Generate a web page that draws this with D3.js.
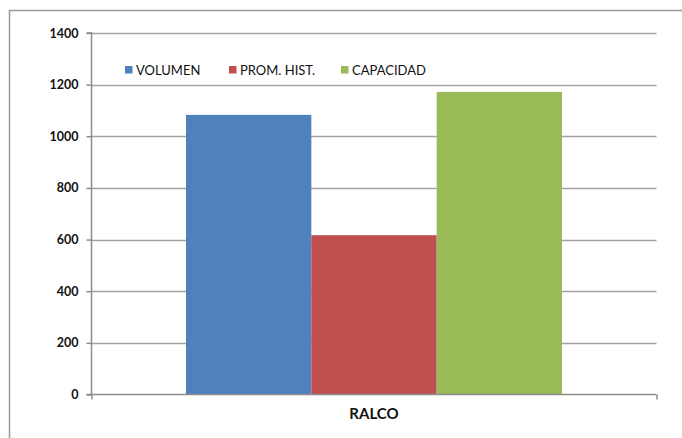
<!DOCTYPE html>
<html>
<head>
<meta charset="utf-8">
<script src="https://cdn.jsdelivr.net/npm/d3@7"></script>
<style>
  html, body { margin: 0; padding: 0; background: #fff; }
  svg { display: block; font-family: Lato, "Open Sans", sans-serif; }
</style>
</head>
<body>
<svg id="chart" width="682" height="438"></svg>
<script>
// Reservoir volumes (million m³) for the RALCO station
const categories = ["RALCO"];
const seriesNames = ["VOLUMEN", "PROM. HIST.", "CAPACIDAD"];
const seriesValues = [1083, 617, 1172];
const seriesColors = ["#4F81BD", "#C0504D", "#9BBB59"];
const yTicks = [0, 200, 400, 600, 800, 1000, 1200, 1400];

const svg = d3.select("#chart");
const margin = { left: 91.5, right: 682 - 656.5, top: 33, bottom: 438 - 394.5 };
const W = 682, H = 438;
const plotW = W - margin.left - margin.right;
const plotH = H - margin.top - margin.bottom;

// Outer chart frame (top and left edges visible)
svg.append("path")
  .attr("d", `M9.5,438 V10.5 H682`)
  .attr("fill", "none").attr("stroke", "#9a9a9a").attr("stroke-width", 1.5);

const g = svg.append("g").attr("transform", `translate(${margin.left},${margin.top})`);

const y = d3.scaleLinear().domain([0, 1400]).range([plotH, 0]);
const x0 = d3.scaleBand().domain(categories).range([0, plotW]).paddingInner(0).paddingOuter(0.2513);
const x1 = d3.scaleBand().domain(seriesNames).range([0, x0.bandwidth()]).padding(0);

// Horizontal gridlines
g.append("g").selectAll("line").data(yTicks.filter(d => d > 0)).join("line")
  .attr("x1", 0).attr("x2", plotW)
  .attr("y1", d => Math.round(y(d)) + 0.5).attr("y2", d => Math.round(y(d)) + 0.5)
  .attr("stroke", "#a3a3a3").attr("stroke-width", 1.5);

// Bars
categories.forEach(cat => {
  g.append("g").attr("transform", `translate(${x0(cat)},0)`)
    .selectAll("rect").data(seriesValues).join("rect")
    .attr("x", (d, i) => x1(seriesNames[i]))
    .attr("width", x1.bandwidth())
    .attr("y", d => y(d))
    .attr("height", d => plotH - y(d))
    .attr("fill", (d, i) => seriesColors[i]);
});

// Y axis
const yAxis = g.append("g")
  .call(d3.axisLeft(y).tickValues(yTicks).tickSize(5).tickPadding(8).tickFormat(d3.format("d")));
yAxis.selectAll("path, line").attr("stroke", "#8c8c8c").attr("stroke-width", 1.5);
yAxis.select(".domain").attr("d", `M-5,${plotH}H0V0H-5`);
yAxis.selectAll("text")
  .attr("font-family", "Lato, sans-serif").attr("font-weight", "bold")
  .attr("font-size", 12.5).attr("fill", "#111");

// X axis
const xAxis = g.append("g").attr("transform", `translate(0,${plotH})`)
  .call(d3.axisBottom(d3.scaleLinear().domain([0, 1]).range([0, plotW])).tickValues([0, 1]).tickSize(5).tickFormat(""));
xAxis.selectAll("path, line").attr("stroke", "#8c8c8c").attr("stroke-width", 1.5);
xAxis.select(".domain").attr("d", `M0,0H${plotW}`);

// Category label
g.append("text")
  .attr("x", x0(categories[0]) + x0.bandwidth() / 2)
  .attr("y", plotH + 24)
  .attr("text-anchor", "middle")
  .attr("font-weight", "bold").attr("font-size", 15).attr("fill", "#111")
  .text(categories[0]);

// Legend
const legendX = [125, 229, 341];
const legend = svg.append("g");
seriesNames.forEach((name, i) => {
  legend.append("rect")
    .attr("x", legendX[i]).attr("y", 66).attr("width", 7.5).attr("height", 7.5)
    .attr("fill", seriesColors[i]);
  legend.append("text")
    .attr("x", legendX[i] + 11).attr("y", 74.5)
    .attr("font-size", 13).attr("fill", "#111")
    .text(name);
});
</script>
</body>
</html>
